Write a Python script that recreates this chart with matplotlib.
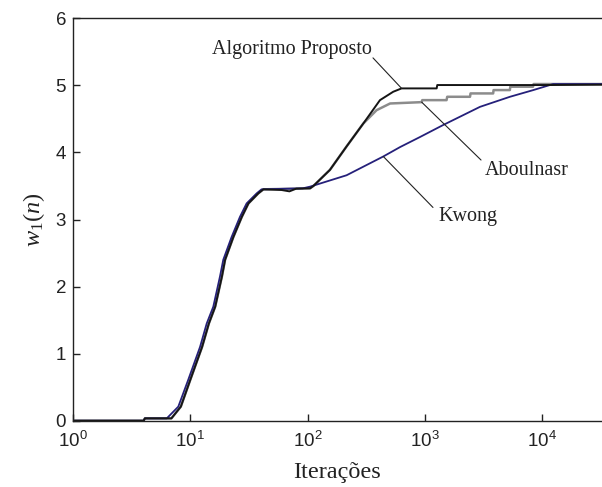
import math
import matplotlib
matplotlib.use("Agg")
import matplotlib.pyplot as plt
from matplotlib.ticker import FixedLocator, FuncFormatter, NullLocator

plt.rcParams['mathtext.fontset'] = 'custom'
plt.rcParams['mathtext.rm'] = 'Liberation Serif'
plt.rcParams['mathtext.it'] = 'Liberation Serif:italic'
plt.rcParams['mathtext.sf'] = 'Liberation Sans'

# Algoritmo Proposto (preto)
x_prop = [1, 4.0, 4.1, 6.9, 8.3, 10.0, 12.6, 14.4, 16.3, 18.6, 19.8, 23.3, 27.5, 31.3, 38,
          42, 60, 70, 80, 105, 112, 155, 215, 298, 414, 537, 633, 1260, 1275, 11000, 32000]
y_prop = [0, 0, 0.035, 0.035, 0.21, 0.61, 1.10, 1.45, 1.70, 2.15, 2.40, 2.74, 3.04, 3.24, 3.39,
          3.45, 3.44, 3.42, 3.46, 3.465, 3.50, 3.74, 4.09, 4.43, 4.78, 4.905, 4.955, 4.955, 5.005, 5.005, 5.01]

# Aboulnasr (cinza)
x_aboul = [1, 4.0, 4.1, 6.9, 8.3, 10.0, 12.6, 14.4, 16.3, 18.6, 19.8, 23.3, 27.5, 31.3, 38,
           42, 105, 112, 155, 215, 298, 387, 505, 938, 950, 1530, 1550, 2425, 2450, 3820, 3850,
           5300, 5350, 8350, 8450, 32000]
y_aboul = [0, 0, 0.035, 0.035, 0.21, 0.61, 1.10, 1.45, 1.70, 2.15, 2.40, 2.74, 3.04, 3.24, 3.39,
           3.45, 3.465, 3.50, 3.74, 4.09, 4.43, 4.63, 4.73, 4.75, 4.78, 4.78, 4.83, 4.83, 4.88, 4.88, 4.93,
           4.93, 4.98, 4.98, 5.02, 5.02]

# Kwong (azul)
x_kwong = [1, 4.0, 4.1, 6.3, 7.9, 9.6, 12.1, 13.8, 15.7, 17.9, 19.1, 22.5, 26.5, 30.2, 36.8,
           40.5, 91, 105, 215, 442, 614, 908, 1435, 2950, 5310, 8400, 12400, 32000]
y_kwong = [0, 0, 0.035, 0.035, 0.21, 0.61, 1.10, 1.45, 1.70, 2.15, 2.40, 2.74, 3.04, 3.24, 3.39,
           3.45, 3.465, 3.49, 3.66, 3.94, 4.08, 4.23, 4.41, 4.68, 4.83, 4.93, 5.02, 5.02]

x_ticks = [1, 10, 100, 1000, 10000]
y_ticks = [0, 1, 2, 3, 4, 5, 6]

fig = plt.figure(figsize=(6.02, 4.87), dpi=100)
ax = fig.add_axes([0.1213, 0.1361, 0.8787, 0.8263])

ax.plot(x_aboul, y_aboul, color='#8c8c8c', lw=1.8)
ax.plot(x_kwong, y_kwong, color='#25207a', lw=1.3)
ax.plot(x_prop, y_prop, color='#151515', lw=1.4)

ax.set_xscale('log')
ax.set_xlim(1, 10 ** 4.51)
ax.set_ylim(0, 6)
ax.xaxis.set_major_locator(FixedLocator(x_ticks))
ax.xaxis.set_minor_locator(NullLocator())
ax.xaxis.set_major_formatter(FuncFormatter(lambda v, p: r'$\mathsf{10^{%d}}$' % round(math.log10(v))))
ax.set_yticks(y_ticks)

ax.spines['right'].set_visible(False)
for s in ['left', 'bottom', 'top']:
    ax.spines[s].set_linewidth(1.0)
    ax.spines[s].set_color('#222222')
ax.tick_params(direction='in', length=5, width=1.0, colors='#222222', labelsize=13.5, pad=5)
ax.tick_params(axis='x', pad=7)
for lab in ax.get_yticklabels():
    lab.set_fontfamily('Liberation Sans')

ax.set_xlabel('Iterações', fontfamily='Liberation Serif', fontsize=17.5, color='#222222', labelpad=8)
ax.set_ylabel(r'$w_1(n)$', fontsize=17.5, color='#222222', labelpad=6)

line_kw = dict(arrowstyle='-', color='#222222', lw=0.8, shrinkA=0, shrinkB=0)
txt_kw = dict(fontfamily='Liberation Serif', fontsize=14.5, color='#222222', va='center')

ax.annotate('', xy=(633, 4.955), xytext=(361, 5.41), arrowprops=line_kw)
ax.text(352, 5.53, 'Algoritmo Proposto', ha='right', **txt_kw)

ax.annotate('', xy=(939, 4.75), xytext=(3010, 3.887), arrowprops=line_kw)
ax.text(3250, 3.738, 'Aboulnasr', ha='left', **txt_kw)

ax.annotate('', xy=(442, 3.94), xytext=(1172, 3.18), arrowprops=line_kw)
ax.text(1294, 3.04, 'Kwong', ha='left', **txt_kw)

fig.savefig('out.png', dpi=100)
